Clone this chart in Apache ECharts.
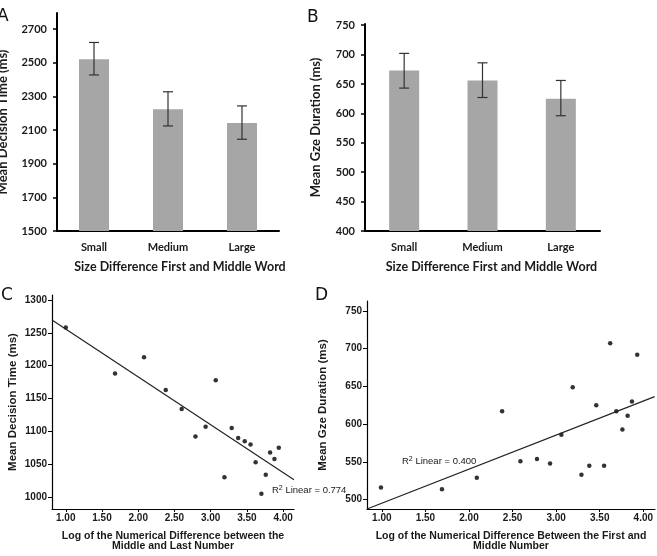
<!DOCTYPE html>
<html>
<head>
<meta charset="utf-8">
<script src="https://cdn.jsdelivr.net/npm/echarts@6/dist/echarts.min.js"></script>
<style>
  html, body { margin: 0; padding: 0; background: #fff; }
  #chart { width: 657px; height: 556px; }
</style>
</head>
<body>
<div id="chart"></div>
<script>
// bar panels (A, B)
const barCats = ["Small", "Medium", "Large"];
const decisionMean = [2520, 2223, 2141];
const decisionLow = [2427, 2124, 2045];
const decisionHigh = [2620, 2327, 2243];
const decisionTicks = [1500, 1700, 1900, 2100, 2300, 2500, 2700];

const gazeMean = [673, 656, 625];
const gazeLow = [643, 627, 596];
const gazeHigh = [702, 686, 656];
const gazeTicks = [400, 450, 500, 550, 600, 650, 700, 750];

// scatter panels (C, D)
const logTicks = [1, 1.5, 2, 2.5, 3, 3.5, 4];

const logDiffC = [1.00, 1.68, 2.08, 2.38, 2.60, 2.79, 2.93, 3.07, 3.19, 3.29,
  3.38, 3.47, 3.55, 3.62, 3.70, 3.76, 3.82, 3.88, 3.94];
const decisionC = [1258, 1188, 1213, 1163, 1134, 1092, 1107, 1178, 1030, 1105,
  1090, 1085, 1080, 1053, 1005, 1034, 1068, 1058, 1075];
const fitCX = [0.81, 4.15];
const fitCY = [1269.6, 1026.3];
const decisionCTicks = [1000, 1050, 1100, 1150, 1200, 1250, 1300];

const logDiffD = [0.99, 1.69, 2.09, 2.38, 2.59, 2.78, 2.93, 3.06, 3.19, 3.29,
  3.38, 3.46, 3.55, 3.62, 3.69, 3.76, 3.82, 3.87, 3.93];
const gazeD = [516, 514, 529, 617, 551, 554, 548, 586, 649, 533,
  545, 625, 545, 707, 617, 593, 611, 630, 692];
const fitDX = [0.83, 4.13];
const fitDY = [487.7, 636.4];
const gazeDTicks = [500, 550, 600, 650, 700, 750];

const barFont = "Lato";
const spssFont = "Liberation Sans";
const ink = "#1a1a1a";

function errorItem(params, api) {
  const i = api.value(0);
  const lo = api.coord([i, api.value(1)]);
  const hi = api.coord([i, api.value(2)]);
  const cap = 5;
  const style = { stroke: "#333", lineWidth: 1.2 };
  return {
    type: "group",
    children: [
      { type: "line", shape: { x1: hi[0], y1: hi[1], x2: lo[0], y2: lo[1] }, style },
      { type: "line", shape: { x1: hi[0] - cap, y1: hi[1], x2: hi[0] + cap, y2: hi[1] }, style },
      { type: "line", shape: { x1: lo[0] - cap, y1: lo[1], x2: lo[0] + cap, y2: lo[1] }, style },
    ],
  };
}

function barX(gridIndex, shift) {
  return {
    type: "category",
    gridIndex: gridIndex,
    data: barCats,
    name: "Size Difference First and Middle Word",
    nameLocation: "middle",
    nameGap: 29,
    nameTextStyle: {
      fontFamily: barFont, fontWeight: "bold", fontSize: 12.5, color: ink,
      verticalAlign: "top", padding: [0, 0, 0, shift * 2],
    },
    axisLine: { lineStyle: { color: "#000", width: 2 } },
    axisTick: { length: 4, lineStyle: { color: "#000", width: 1.5 } },
    axisLabel: { fontFamily: barFont, fontWeight: "bold", fontSize: 11, color: ink, margin: 11 },
    splitLine: { show: false },
  };
}

function barY(gridIndex, min, max, ticks, name, gap) {
  return {
    type: "value",
    gridIndex: gridIndex,
    min: min,
    max: max,
    name: name,
    nameLocation: "middle",
    nameRotate: 90,
    nameGap: gap,
    nameTextStyle: { fontFamily: barFont, fontWeight: "bold", fontSize: 13, color: ink },
    axisLine: { show: true, lineStyle: { color: "#000", width: 2 } },
    axisTick: { show: true, length: 4, customValues: ticks, lineStyle: { color: "#000", width: 1.5 } },
    axisLabel: {
      customValues: ticks, formatter: (v) => String(v),
      fontFamily: barFont, fontWeight: "bold", fontSize: 11, color: ink, margin: 10,
    },
    splitLine: { show: false },
  };
}

function logX(gridIndex, min, max, name) {
  return {
    type: "value",
    gridIndex: gridIndex,
    min: min,
    max: max,
    name: name,
    nameLocation: "middle",
    nameGap: 22,
    nameTextStyle: { fontFamily: spssFont, fontWeight: "bold", fontSize: 10.5, color: ink, lineHeight: 10, verticalAlign: "top" },
    axisLine: { lineStyle: { color: "#000", width: 1.2 } },
    axisTick: { show: true, length: 3, customValues: logTicks, lineStyle: { color: "#000" } },
    axisLabel: {
      customValues: logTicks,
      formatter: (v) => v.toFixed(2),
      fontFamily: spssFont, fontWeight: "bold", fontSize: 10, color: ink, margin: 4,
    },
    splitLine: { show: false },
  };
}

function scatY(gridIndex, min, max, ticks, name, gap) {
  return {
    type: "value",
    gridIndex: gridIndex,
    min: min,
    max: max,
    name: name,
    nameLocation: "middle",
    nameRotate: 90,
    nameGap: gap,
    nameTextStyle: { fontFamily: spssFont, fontWeight: "bold", fontSize: 11.5, color: ink },
    axisLine: { show: true, lineStyle: { color: "#000", width: 1.2 } },
    axisTick: { show: true, length: 4, customValues: ticks, lineStyle: { color: "#000" } },
    axisLabel: {
      customValues: ticks, formatter: (v) => String(v),
      fontFamily: spssFont, fontWeight: "bold", fontSize: 10, color: ink, margin: 5,
    },
    splitLine: { show: false },
  };
}

function letter(ch, x, y) {
  return { type: "text", left: x, top: y, style: { text: ch, fontFamily: "DejaVu Sans", fontSize: 17, fill: "#111" } };
}

function r2Label(value, x, y) {
  return {
    type: "text", left: x, top: y,
    style: {
      text: "R{sup|2} Linear = " + value,
      fontFamily: spssFont, fontSize: 9.5, fill: ink,
      rich: { sup: { fontSize: 7, verticalAlign: "top", padding: [0, 0, 4, 0], fontFamily: spssFont, fill: ink } },
    },
  };
}

const chart = echarts.init(document.getElementById("chart"));

chart.setOption({
  animation: false,
  backgroundColor: "#fff",
  grid: [
    { left: 57, top: 13, width: 222, height: 218, outerBoundsMode: "none" },
    { left: 365, top: 24, width: 235, height: 207, outerBoundsMode: "none" },
    { left: 52, top: 295, width: 242, height: 214, outerBoundsMode: "none" },
    { left: 367, top: 301, width: 288, height: 208, outerBoundsMode: "none" },
  ],
  xAxis: [
    barX(0, 12),
    barX(1, 9),
    logX(2, 0.81, 4.15, "Log of the Numerical Difference between the\nMiddle and Last Number"),
    logX(3, 0.83, 4.134, "Log of the Numerical Difference Between the First and\nMiddle Number"),
  ],
  yAxis: [
    barY(0, 1500, 2795, decisionTicks, "Mean Decision Time (ms)", 48),
    barY(1, 400, 752, gazeTicks, "Mean Gze Duration (ms)", 43),
    scatY(2, 981.8, 1307.6, decisionCTicks, "Mean Decision Time (ms)", 33),
    scatY(3, 487.7, 763, gazeDTicks, "Mean Gze Duration (ms)", 38),
  ],
  series: [
    {
      type: "bar", xAxisIndex: 0, yAxisIndex: 0, data: decisionMean,
      barWidth: 30, itemStyle: { color: "#a6a6a6" },
    },
    {
      type: "custom", xAxisIndex: 0, yAxisIndex: 0, z: 5,
      renderItem: errorItem,
      data: barCats.map((c, i) => [i, decisionLow[i], decisionHigh[i]]),
    },
    {
      type: "bar", xAxisIndex: 1, yAxisIndex: 1, data: gazeMean,
      barWidth: 30, itemStyle: { color: "#a6a6a6" },
    },
    {
      type: "custom", xAxisIndex: 1, yAxisIndex: 1, z: 5,
      renderItem: errorItem,
      data: barCats.map((c, i) => [i, gazeLow[i], gazeHigh[i]]),
    },
    {
      type: "scatter", xAxisIndex: 2, yAxisIndex: 2, symbolSize: 4.5,
      itemStyle: { color: "#000" },
      data: logDiffC.map((x, i) => [x, decisionC[i]]),
    },
    {
      type: "line", xAxisIndex: 2, yAxisIndex: 2, showSymbol: false, silent: true,
      lineStyle: { color: "#222", width: 1.2 },
      data: fitCX.map((x, i) => [x, fitCY[i]]),
    },
    {
      type: "scatter", xAxisIndex: 3, yAxisIndex: 3, symbolSize: 4.5,
      itemStyle: { color: "#000" },
      data: logDiffD.map((x, i) => [x, gazeD[i]]),
    },
    {
      type: "line", xAxisIndex: 3, yAxisIndex: 3, showSymbol: false, silent: true,
      lineStyle: { color: "#222", width: 1.2 },
      data: fitDX.map((x, i) => [x, fitDY[i]]),
    },
  ],
  graphic: [
    letter("A", -3, 8),
    letter("B", 307, 9),
    letter("C", 1, 287),
    letter("D", 315, 287),
    r2Label("0.774", 272, 485),
    r2Label("0.400", 402, 456),
  ],
});
</script>
</body>
</html>
